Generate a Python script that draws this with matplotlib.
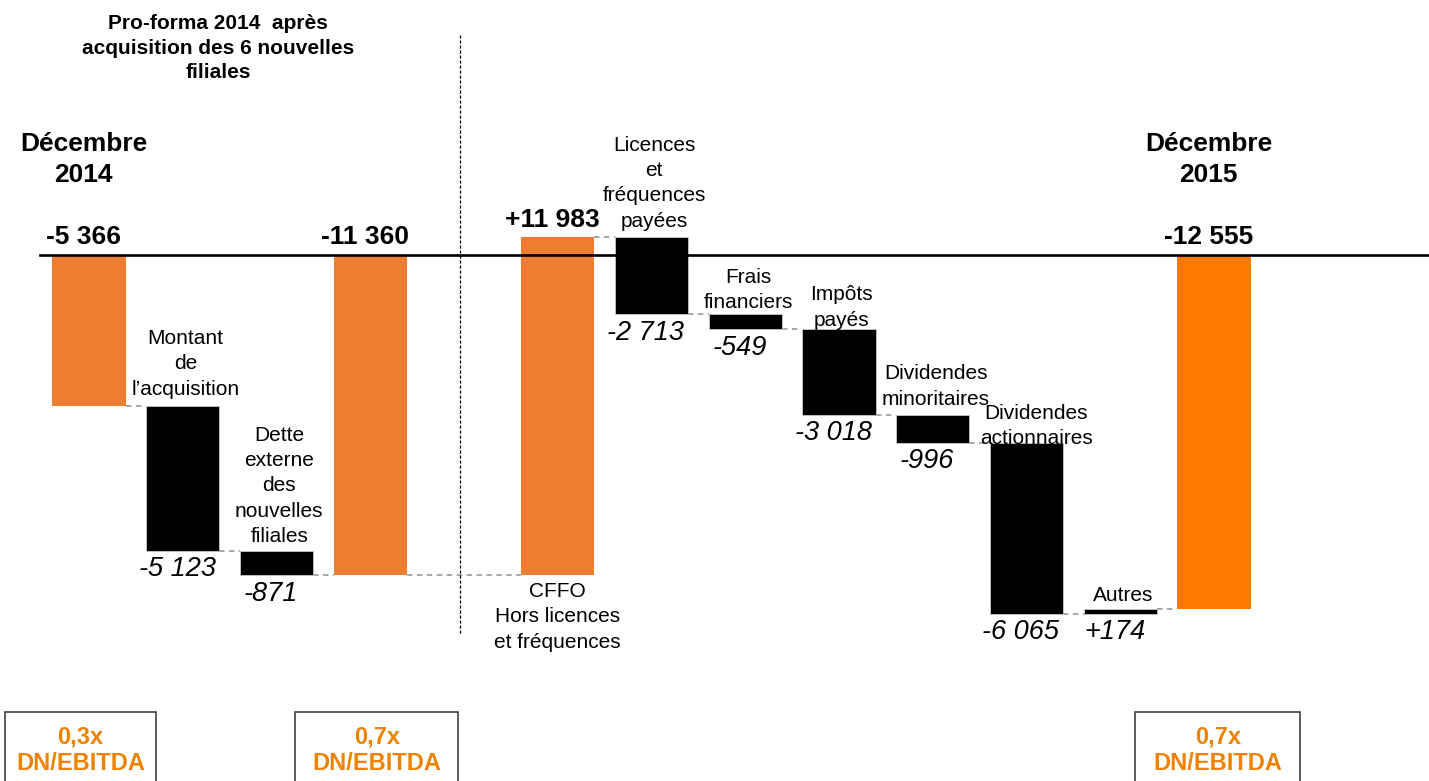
import matplotlib
matplotlib.use("Agg")
import matplotlib.pyplot as plt
from matplotlib.patches import Rectangle
from matplotlib.transforms import blended_transform_factory

plt.rcParams['font.family'] = ['Liberation Sans', 'DejaVu Sans']

# ---------------- data ----------------
labels = ["Décembre\n2014", "Montant\nde\nl\u2019acquisition",
          "Dette\nexterne\ndes\nnouvelles\nfiliales", "",
          "CFFO\nHors licences\net fréquences",
          "Licences\net\nfréquences\npayées", "Frais\nfinanciers",
          "Impôts\npayés", "Dividendes\nminoritaires",
          "Dividendes\nactionnaires", "Autres", "Décembre\n2015"]
values = [-5366, -5123, -871, -11360, 11983, -2713, -549, -3018, -996,
          -6065, 174, -12555]
kinds = ["total", "delta", "delta", "total", "delta", "delta", "delta",
         "delta", "delta", "delta", "delta", "total"]
slots = [0, 1, 2, 3, 5, 6, 7, 8, 9, 10, 11, 12]
ratio_texts = ["0,3x\nDN/EBITDA", "0,7x\nDN/EBITDA", "0,7x\nDN/EBITDA"]
title = "Pro-forma 2014  après\nacquisition des 6 nouvelles\nfiliales"

# ---------------- style ----------------
ORANGE = "#ED7D31"
ORANGE2 = "#FF7900"
TXT_OR = "#EF8200"
colors = [ORANGE, "black", "black", ORANGE, ORANGE, "black", "black",
          "black", "black", "black", "black", ORANGE2]
W = 0.78
ratio_pos = [-0.09, 3.07, 12.04]
ratio_w = [1.61, 1.74, 1.76]
# per-label nudges in pixels (dx, dy up)
label_dx = [0, 0, 0, 0, 0, 0, 0, 0, 0, 7, 0, 0]
label_dy = [0, 5, 2, 0, -4, 4, -1, -3, 3, -8, 1, 0]
PX = 0.72

fig = plt.figure(figsize=(14.29, 7.81), dpi=100)
ax = fig.add_axes([0, 0, 1, 1])
ax.set_xlim(-0.949, 14.293)
ax.set_ylim(-18652, 9043)
ax.axis('off')

def fmt(v, kind):
    s = f"{abs(v):,}".replace(",", " ")
    if v < 0:
        return "-" + s
    return ("+" + s) if kind == "delta" else s

cum = 0
ends = []
bars = []
for lab, v, k, s, c in zip(labels, values, kinds, slots, colors):
    if k == "total":
        bottom, top = min(0, v), max(0, v)
        cum = v
    else:
        start = cum
        cum = cum + v
        bottom, top = min(start, cum), max(start, cum)
    ax.bar(s, top - bottom, bottom=bottom, width=W, color=c,
           edgecolor='#C8C8C8' if c == "black" else 'none', linewidth=0.6,
           zorder=2)
    ends.append(cum)
    bars.append((bottom, top))

# connectors
for i in range(len(values) - 1):
    ax.plot([slots[i] + W / 2, slots[i + 1] - W / 2], [ends[i], ends[i]],
            color='#A0A0A0', lw=1.3, ls=(0, (3, 2.5)), zorder=1)

# zero line
ax.plot([-0.523, 14.293], [0, 0], color='black', lw=1.9, zorder=3)

# vertical separator
ax.plot([3.96, 3.96], [(255 - 35) / 0.0282, (255 - 635) / 0.0282],
        color='black', lw=0.9, ls=(0, (2.5, 1.5)), zorder=1)

LS = 1.42
# labels
for i, (lab, v, k, s) in enumerate(zip(labels, values, kinds, slots)):
    bottom, top = bars[i]
    dx, dy = label_dx[i] * PX, label_dy[i] * PX
    if k == "total":
        ax.annotate(fmt(v, k), (s, 0), xytext=(-4, 4),
                    textcoords='offset points', ha='center', va='bottom',
                    fontsize=19, fontweight='bold')
        if lab:
            ax.annotate(lab, (s, 0), xytext=(-4, 69),
                        textcoords='offset points', ha='center',
                        va='center', fontsize=19, fontweight='bold',
                        linespacing=1.38)
    elif v > 0 and i == 4:
        ax.annotate(fmt(v, k), (s, top), xytext=(-4, 4),
                    textcoords='offset points', ha='center', va='bottom',
                    fontsize=19, fontweight='bold')
        ax.annotate(lab, (s, bottom), xytext=(dx, -2 + dy),
                    textcoords='offset points', ha='center', va='top',
                    fontsize=15, linespacing=LS)
    else:
        ax.annotate(fmt(v, k), (s, bottom), xytext=(-4, -4),
                    textcoords='offset points', ha='center', va='top',
                    fontsize=19.5, fontstyle='italic')
        ax.annotate(lab, (s, top), xytext=(2 + dx, 2 + dy),
                    textcoords='offset points', ha='center', va='bottom',
                    fontsize=15, linespacing=LS)

# title
fig.text(218 / 1429, 1 - 48 / 781, title, ha='center', va='center',
         fontsize=15, fontweight='bold', linespacing=1.39)

# ratio boxes
tr = blended_transform_factory(ax.transData, ax.transAxes)
for t, s, w in zip(ratio_texts, ratio_pos, ratio_w):
    ax.add_patch(Rectangle((s - w / 2, -0.05), w, 0.1383, transform=tr,
                           facecolor='white', edgecolor='#404040', lw=1.2,
                           clip_on=False, zorder=4))
    ax.text(s, 1 - 750 / 781, t, transform=tr, ha='center', va='center',
            fontsize=17, fontweight='bold', color=TXT_OR, linespacing=1.2,
            zorder=5)

fig.savefig("out.png", dpi=100)
